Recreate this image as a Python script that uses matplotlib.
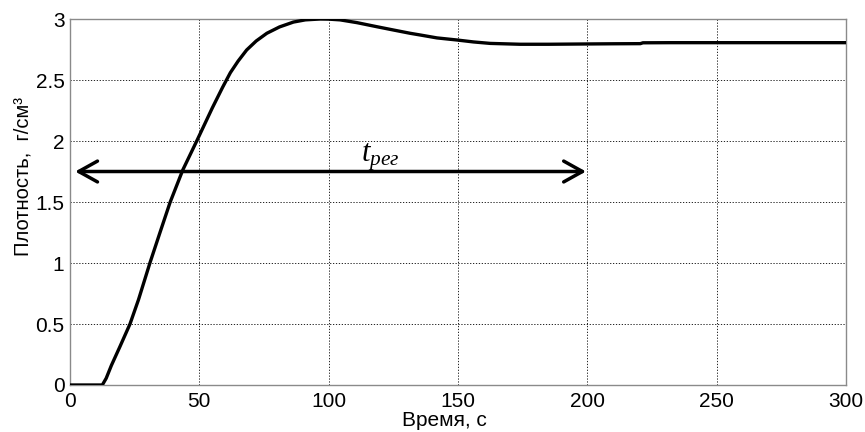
import matplotlib.pyplot as plt

plt.rcParams['font.family'] = ['Liberation Sans', 'DejaVu Sans']
plt.rcParams['mathtext.fontset'] = 'custom'
plt.rcParams['mathtext.it'] = 'Liberation Serif:italic'
plt.rcParams['mathtext.rm'] = 'Liberation Serif'

# values
time_s = [0, 12.5, 14, 16, 19.3, 23.2, 26.5, 30.9, 34.8, 38.7, 43.6, 49,
          55, 59, 62, 65, 68.3, 72, 76.1, 81, 86.4, 91, 96.7, 100, 104.4, 111,
          118.6, 125, 131.5, 135.4, 141.9, 149.6, 156, 162.5, 174, 185, 197,
          210, 220.5, 221.5, 232, 260, 300]
density = [0, 0, 0.055, 0.16, 0.314, 0.5, 0.70, 1.0, 1.25, 1.497, 1.762, 2.0,
           2.27, 2.44, 2.56, 2.655, 2.746, 2.82, 2.883, 2.935, 2.975, 2.993,
           3.0, 2.999, 2.993, 2.97, 2.937, 2.91, 2.883, 2.869, 2.845, 2.828,
           2.812, 2.80, 2.793, 2.793, 2.795, 2.797, 2.798, 2.805, 2.806, 2.806,
           2.806]
arrow_x = [2, 199.5]
arrow_y = 1.75
x_ticks = [0, 50, 100, 150, 200, 250, 300]
y_ticks = [0, 0.5, 1, 1.5, 2, 2.5, 3]
y_tick_labels = ['0', '0.5', '1', '1.5', '2', '2.5', '3']

fig = plt.figure(figsize=(8.65, 4.32), dpi=100)
ax = fig.add_axes([0.0809, 0.1088, 0.8971, 0.8472])

ax.plot(time_s, density, color='black', lw=2.4, solid_joinstyle='round', zorder=3)

ax.annotate('', xy=(arrow_x[1], arrow_y), xytext=(arrow_x[0], arrow_y),
            arrowprops=dict(arrowstyle='<->,head_length=1.35,head_width=0.75',
                            color='black', lw=2.5, shrinkA=0, shrinkB=0),
            zorder=4)
ax.text(112.5, 1.83, r'$t_{рег}$', fontsize=22, ha='left', va='baseline', zorder=4)

ax.set_xlim(0, 300)
ax.set_ylim(0, 3)
ax.set_xticks(x_ticks)
ax.set_yticks(y_ticks)
ax.set_yticklabels(y_tick_labels)
ax.grid(True, color='black', linestyle=(0, (1.5, 2)), linewidth=0.6)
for s in ax.spines.values():
    s.set_color('#8a8a8a')
    s.set_linewidth(1.0)
ax.tick_params(direction='in', length=0, labelsize=15)
ax.tick_params(axis='x', pad=5)
ax.tick_params(axis='y', pad=4)

ax.set_xlabel('Время, с', fontsize=15)
ax.xaxis.set_label_coords(0.482, -0.072)
ax.set_ylabel('Плотность,  г/см³', fontsize=14.5)
ax.yaxis.set_label_coords(-0.048, 0.57)

fig.savefig('out.png', dpi=100)
